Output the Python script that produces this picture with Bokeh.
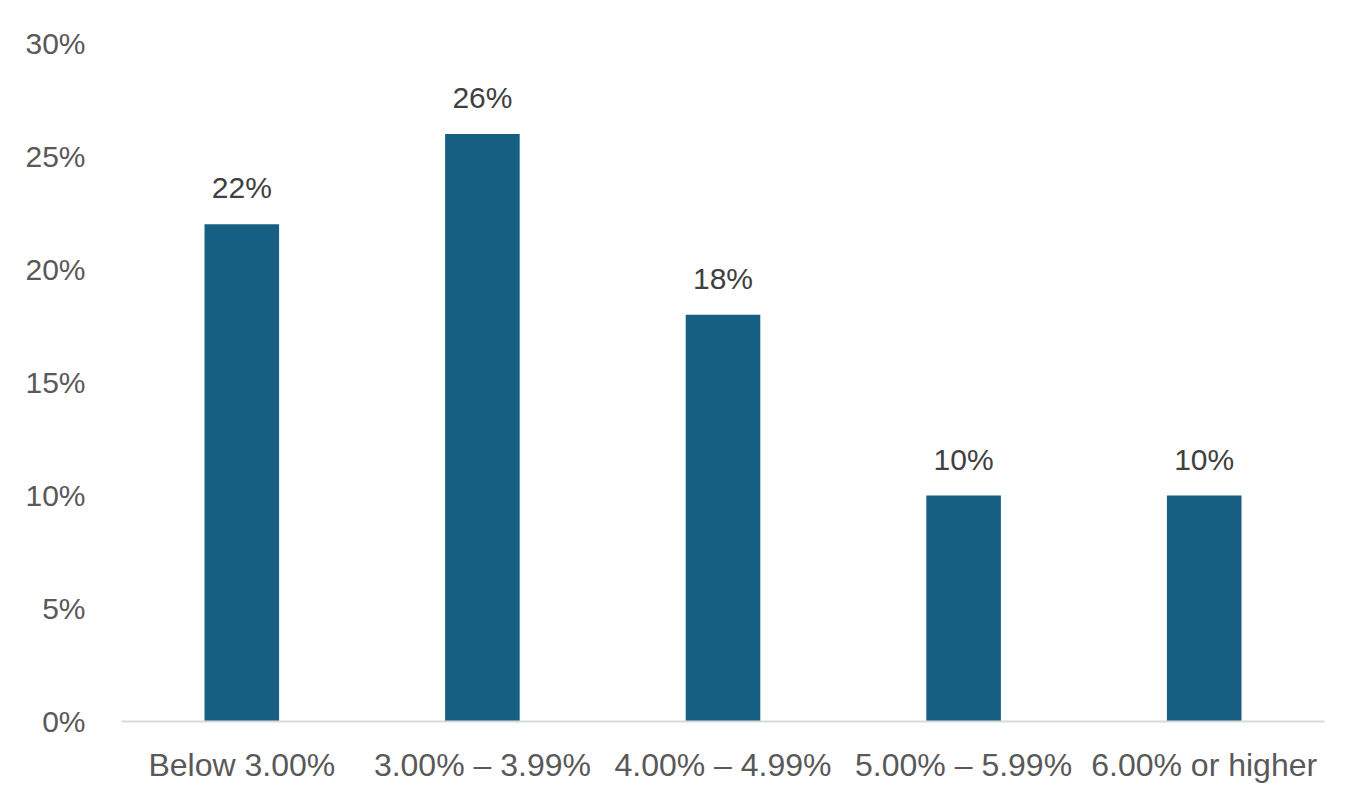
from bokeh.plotting import figure
from bokeh.models import ColumnDataSource, FactorRange, Range1d, FixedTicker, PrintfTickFormatter
from bokeh.core.properties import value
from bokeh.embed import file_html
from bokeh.resources import INLINE

categories = ["Below 3.00%", "3.00% \u2013 3.99%", "4.00% \u2013 4.99%", "5.00% \u2013 5.99%", "6.00% or higher"]
shares = [22, 26, 18, 10, 10]
labels = ["22%", "26%", "18%", "10%", "10%"]
y_ticks = [0, 5, 10, 15, 20, 25, 30]

FONT = "Liberation Sans"

src = ColumnDataSource(dict(cat=categories, val=shares, lab=labels))

p = figure(x_range=FactorRange(*categories), y_range=Range1d(0, 30),
           width=1358, height=801, output_backend="svg", toolbar_location=None,
           min_border_left=121, min_border_right=34, min_border_top=43, min_border_bottom=80)
p.outline_line_color = None
p.grid.grid_line_color = None
p.background_fill_color = "white"
p.border_fill_color = "white"

p.vbar(x="cat", top="val", width=0.31, source=src, color="#175f82", line_color=None)
p.text(x="cat", y="val", text="lab", source=src, text_align="center", text_baseline="bottom",
       y_offset=-20, text_font=value(FONT), text_font_size="30px", text_color="#404040")

p.yaxis.ticker = FixedTicker(ticks=y_ticks)
p.yaxis.formatter = PrintfTickFormatter(format="%d%%")
p.yaxis.axis_line_color = None
p.yaxis.major_tick_line_color = None
p.yaxis.minor_tick_line_color = None
p.yaxis.major_label_standoff = 30
p.yaxis.major_label_text_font = FONT
p.yaxis.major_label_text_font_size = "30px"
p.yaxis.major_label_text_color = "#595959"

p.xaxis.axis_line_color = "#d9d9d9"
p.xaxis.axis_line_width = 2
p.xaxis.major_tick_line_color = None
p.xaxis.minor_tick_line_color = None
p.xaxis.major_label_standoff = 19
p.xaxis.major_label_text_font = FONT
p.xaxis.major_label_text_font_size = "32px"
p.xaxis.major_label_text_color = "#595959"

open("out.html", "w").write(file_html(p, INLINE))
